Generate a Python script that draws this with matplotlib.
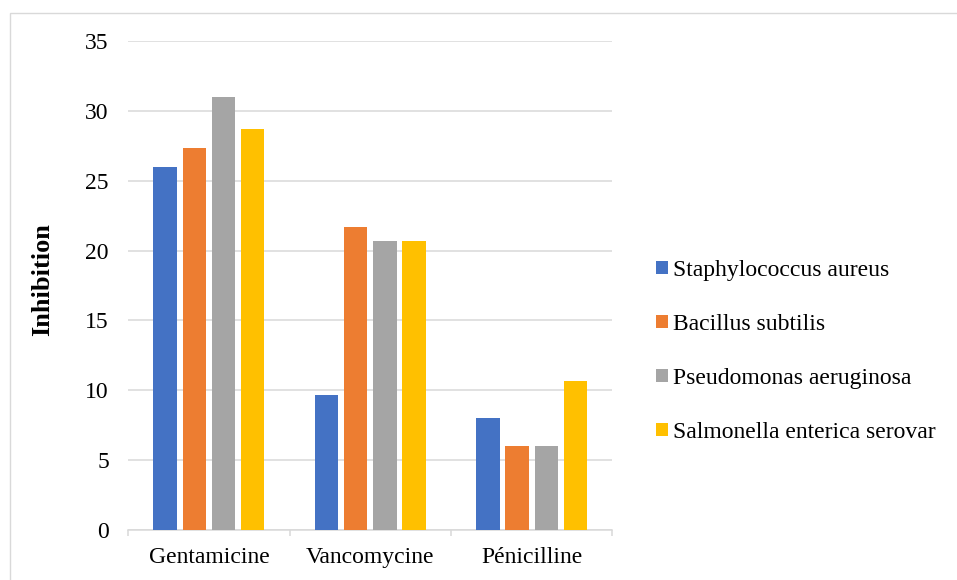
import matplotlib
matplotlib.use("Agg")
import matplotlib.pyplot as plt
import numpy as np
from matplotlib.patches import Rectangle

plt.rcParams['font.family'] = ['Liberation Serif', 'DejaVu Serif']

antibiotics = ['Gentamicine', 'Vancomycine', 'Pénicilline']
strains = ['Staphylococcus aureus', 'Bacillus subtilis',
           'Pseudomonas aeruginosa', 'Salmonella enterica serovar']
staph = [26, 9.67, 8]
bacillus = [27.33, 21.67, 6]
pseudo = [31, 20.67, 6]
salmo = [28.67, 20.67, 10.67]
colors = ['#4472C4', '#ED7D31', '#A5A5A5', '#FFC000']

fig = plt.figure(figsize=(9.57, 5.8), dpi=100)
ax = fig.add_axes([128.3 / 957, 1 - 530 / 580, 484 / 957, 489 / 580])

# outer chart frame (cut by the image edge on right and bottom)
fig.patches.append(Rectangle((10 / 957, -0.1), 1.2, 1 - 13 / 580 + 0.1,
                             transform=fig.transFigure, fill=False,
                             edgecolor='#D9D9D9', lw=1.0, clip_on=False))

x = np.arange(len(antibiotics))
width = 0.145
step = 0.181
series = [staph, bacillus, pseudo, salmo]
for i, (vals, lab, c) in enumerate(zip(series, strains, colors)):
    ax.bar(x + (i - 1.5) * step, vals, width, color=c, label=lab, zorder=3)

ax.set_xlim(-0.5, 2.5)
ax.set_ylim(0, 35)
ax.set_yticks(np.arange(0, 36, 5))
ax.yaxis.grid(True, color='#D9D9D9', lw=1.1, zorder=0)
ax.set_axisbelow(True)

for s in ['top', 'right', 'left']:
    ax.spines[s].set_visible(False)
ax.spines['bottom'].set_color('#D9D9D9')
ax.spines['bottom'].set_linewidth(1.1)

ax.set_xticks(x)
ax.set_xticklabels(antibiotics)
ax.set_xticks([-0.5, 0.5, 1.5, 2.5], minor=True)
ax.tick_params(axis='x', which='major', length=0, pad=12, labelsize=17)
ax.tick_params(axis='x', which='minor', length=4, color='#D9D9D9', width=1.1)
ax.tick_params(axis='y', length=0, pad=14, labelsize=17)

fig.text(43 / 957, 1 - 280 / 580, 'Inhibition', rotation=90, fontsize=19,
         fontweight='bold', ha='center', va='center')

fig.legend(loc='center left', bbox_to_anchor=(656 / 957, 1 - 351.5 / 580),
           frameon=False, fontsize=17, borderpad=0, borderaxespad=0,
           handlelength=0.49, handleheight=0.49, handletextpad=0.22,
           labelspacing=1.4)

fig.savefig('out.png', dpi=100)
